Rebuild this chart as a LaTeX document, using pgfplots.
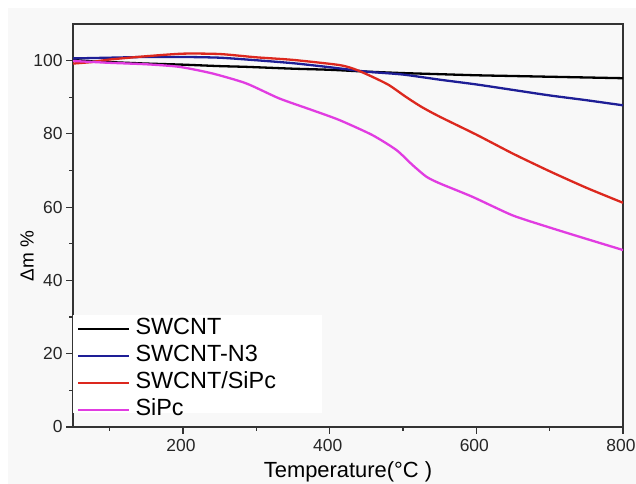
\documentclass[border=0pt]{standalone}
\usepackage{fontspec}
\setmainfont{Liberation Sans}
\usepackage{pgfplots}
\pgfplotsset{compat=1.18}
\definecolor{cblue}{RGB}{30,30,150}
\definecolor{cred}{RGB}{220,40,30}
\definecolor{cmag}{RGB}{225,60,225}
\definecolor{bgc}{RGB}{248,248,248}
\begin{document}
\begin{tikzpicture}[x=1bp,y=1bp]
\path[use as bounding box] (0,0) rectangle (636,484);
\fill[white] (0,0) rectangle (636,484);
\fill[bgc] (8,0) rectangle (636,476);
\begin{axis}[
 at={(73bp,57bp)}, anchor=south west, scale only axis, width=550bp, height=403bp,
 xmin=50, xmax=800, ymin=0, ymax=110,
 xtick={200,400,600,800}, ytick={0,20,...,100},
 minor xtick={100,300,500,700}, minor ytick={10,30,...,90},
 tick align=outside, tick pos=left, major tick length=7bp, minor tick length=4bp,
 axis line style={line width=1.2bp, black!80},
 every tick/.style={line width=1.2bp, black!80},
 ticklabel style={font=\fontsize{17.5}{17.5}\selectfont, text=black!85},
 xticklabel style={yshift=-2bp, xshift=-2bp},
 /pgf/number format/assume math mode=true,
 xlabel={Temperature(°C )}, ylabel={Δm \%},
 xlabel style={at={(rel axis cs:0.5,-0.1117)}, anchor=center, font=\fontsize{22}{22}\selectfont},
 ylabel style={at={(rel axis cs:-0.0836,0.424)}, anchor=center, font=\fontsize{19}{19}\selectfont},
 legend style={at={(rel axis cs:0.0073,0.273)}, anchor=north west, draw=none, fill=none,
   font=\fontsize{23.5}{26}\selectfont, row sep=0bp, column sep=5bp, inner sep=0pt,
   nodes={inner sep=0pt, text height=17bp, text depth=10bp}},
 legend cell align=left,
 legend image code/.code={\draw[#1] (0bp,2bp) -- (51bp,2bp);},
 every axis plot/.append style={line width=2.3bp, smooth, tension=0.4},
]
\fill[white] (rel axis cs:0,0.035) rectangle (rel axis cs:0.453,0.278);
\addplot[black] coordinates {(50,100.2) (75,99.8) (100,99.6) (150,99.2) (200,98.9) (250,98.5) (286,98.3) (350,97.8) (400,97.5) (450,97.0) (500,96.6) (550,96.3) (600,96.0) (650,95.8) (700,95.6) (750,95.4) (800,95.2)};
\addlegendentry{SWCNT}
\addplot[cblue] coordinates {(50,100.6) (100,100.8) (150,101.0) (200,101.0) (250,100.8) (300,100.1) (350,99.3) (400,98.2) (450,97.0) (500,96.2) (550,94.8) (600,93.5) (650,92.0) (700,90.5) (750,89.2) (800,87.8)};
\addlegendentry{SWCNT-N3}
\addplot[cred] coordinates {(50,99.2) (75,99.6) (100,100.3) (150,101.2) (200,101.9) (250,101.8) (300,100.9) (350,100.2) (413,98.8) (435,97.6) (458,95.6) (481,93.3) (504,90.1) (525,87.4) (550,84.7) (600,79.8) (650,74.6) (700,69.8) (750,65.3) (800,61.2)};
\addlegendentry{SWCNT/SiPc}
\addplot[cmag] coordinates {(50,99.9) (100,99.4) (150,99.0) (195,98.3) (240,96.5) (286,93.8) (331,89.7) (376,86.5) (413,83.8) (458,79.7) (491,75.6) (513,71.5) (532,68.3) (550,66.5) (595,62.8) (649,57.8) (696,54.7) (741,51.9) (800,48.3)};
\addlegendentry{SiPc}
\end{axis}
\end{tikzpicture}
\end{document}
